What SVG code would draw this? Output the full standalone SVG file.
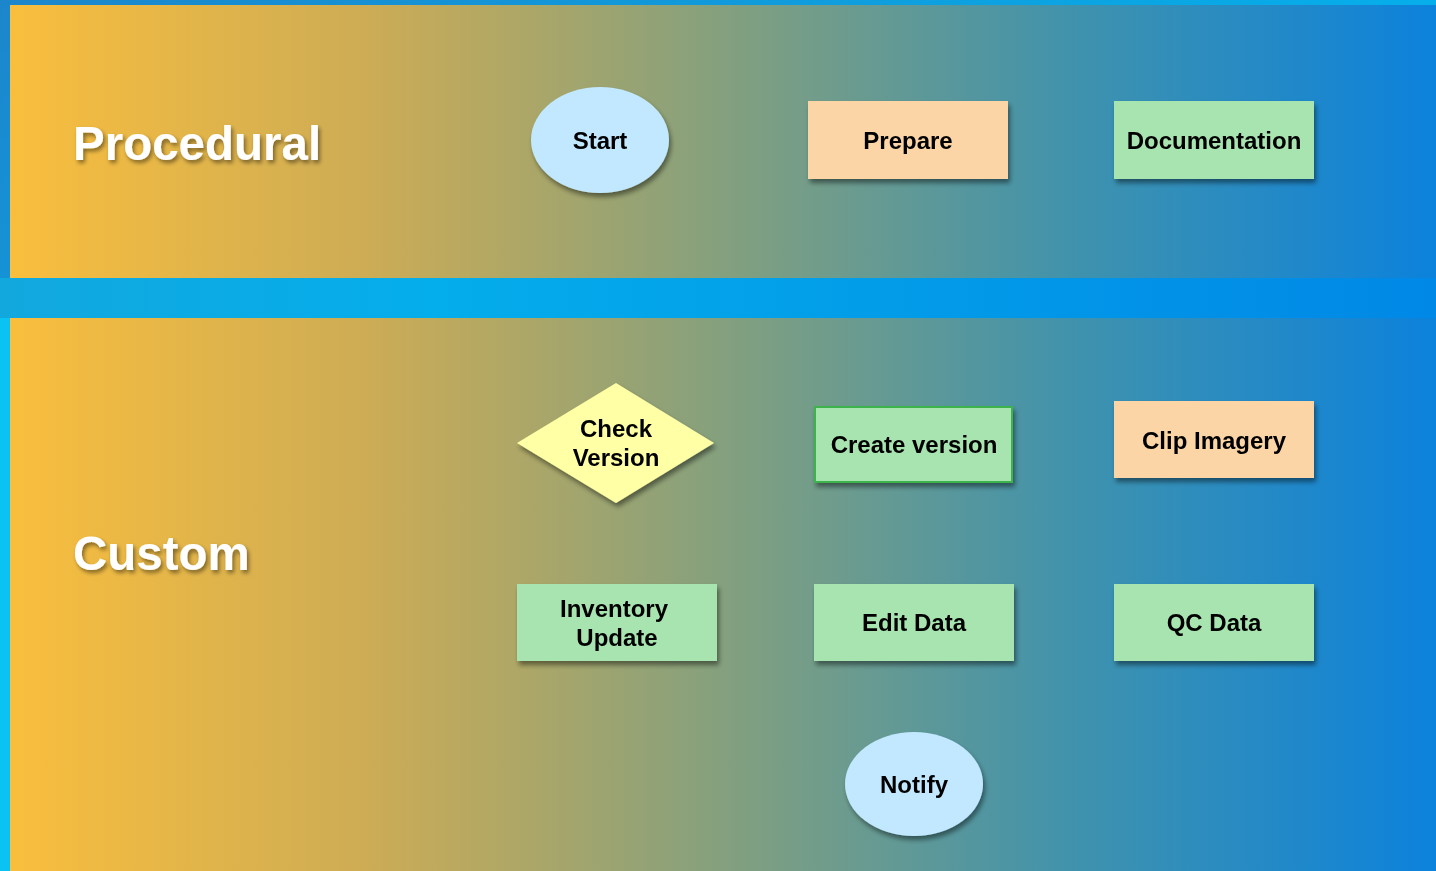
<svg xmlns="http://www.w3.org/2000/svg" width="1436" height="871" viewBox="0 0 1436 871">
<defs>
<linearGradient id="bg" x1="0" y1="0" x2="1" y2="1">
<stop offset="0" stop-color="#1C86CC"/>
<stop offset="0.5" stop-color="#06AEEA"/>
<stop offset="1" stop-color="#0A8CE4"/>
</linearGradient>
<linearGradient id="gap" x1="0" y1="0" x2="1" y2="0">
<stop offset="0" stop-color="#12A8DE"/>
<stop offset="0.3" stop-color="#04ADEB"/>
<stop offset="1" stop-color="#0088E6"/>
</linearGradient>
<linearGradient id="band" x1="0" y1="0" x2="1" y2="0">
<stop offset="0" stop-color="#F9BE3D"/>
<stop offset="0.25" stop-color="#CDAC55"/>
<stop offset="0.5" stop-color="#84A07E"/>
<stop offset="0.75" stop-color="#3F92AD"/>
<stop offset="1" stop-color="#0C82DC"/>
</linearGradient>
<filter id="sh" x="-20%" y="-20%" width="150%" height="160%">
<feGaussianBlur in="SourceAlpha" stdDeviation="2.5"/>
<feOffset dx="2" dy="4" result="b"/>
<feComponentTransfer><feFuncA type="linear" slope="0.45"/></feComponentTransfer>
<feMerge><feMergeNode/><feMergeNode in="SourceGraphic"/></feMerge>
</filter>
<filter id="tsh" x="-10%" y="-30%" width="120%" height="170%">
<feGaussianBlur in="SourceAlpha" stdDeviation="2"/>
<feOffset dx="2" dy="3"/>
<feComponentTransfer><feFuncA type="linear" slope="0.45"/></feComponentTransfer>
<feMerge><feMergeNode/><feMergeNode in="SourceGraphic"/></feMerge>
</filter>
</defs>
<style>
.t{font-family:"Liberation Sans",Arial,sans-serif;font-weight:bold;font-size:24px;fill:#000;text-anchor:middle}
.h{font-family:"Liberation Sans",Arial,sans-serif;font-weight:bold;font-size:47.5px;fill:#fff}
.oval{fill:#C2E8FF}
.peach{fill:#FCD5A6}
.green{fill:#A8E4B0}
.dia{fill:#FFFFA6}
</style>
<rect x="0" y="0" width="1436" height="871" fill="url(#bg)"/>
<rect x="0" y="278" width="1436" height="40" fill="url(#gap)"/>
<rect x="0" y="318" width="10" height="553" fill="#0BC3F3"/>
<rect x="10" y="5" width="1426" height="273" fill="url(#band)"/>
<rect x="10" y="318" width="1426" height="553" fill="url(#band)"/>
<text class="h" x="73" y="160" filter="url(#tsh)">Procedural</text>
<text class="h" x="73" y="570" filter="url(#tsh)">Custom</text>
<g id="connectors"></g>
<g id="start" filter="url(#sh)"><ellipse class="oval" cx="600" cy="140" rx="69" ry="53"/><text class="t" x="600" y="149">Start</text></g>
<g id="prepare" filter="url(#sh)"><rect class="peach" x="808" y="101" width="200" height="78"/><text class="t" x="908" y="149">Prepare</text></g>
<g id="documentation" filter="url(#sh)"><rect class="green" x="1114" y="101" width="200" height="78"/><text class="t" x="1214" y="149">Documentation</text></g>
<g id="check" filter="url(#sh)"><polygon class="dia" points="616,383 714,443 616,503 517,443"/><text class="t" x="616" y="437">Check</text><text class="t" x="616" y="466">Version</text></g>
<g id="create" filter="url(#sh)"><rect class="green" x="815" y="407" width="197" height="75" stroke="#3CB44B" stroke-width="2"/><text class="t" x="914" y="453">Create version</text></g>
<g id="clip" filter="url(#sh)"><rect class="peach" x="1114" y="401" width="200" height="77"/><text class="t" x="1214" y="449">Clip Imagery</text></g>
<g id="inventory" filter="url(#sh)"><rect class="green" x="517" y="584" width="200" height="77"/><text class="t" x="614" y="617">Inventory</text><text class="t" x="617" y="646">Update</text></g>
<g id="edit" filter="url(#sh)"><rect class="green" x="814" y="584" width="200" height="77"/><text class="t" x="914" y="631">Edit Data</text></g>
<g id="qc" filter="url(#sh)"><rect class="green" x="1114" y="584" width="200" height="77"/><text class="t" x="1214" y="631">QC Data</text></g>
<g id="notify" filter="url(#sh)"><ellipse class="oval" cx="914" cy="784" rx="69" ry="52"/><text class="t" x="914" y="793">Notify</text></g>
</svg>
